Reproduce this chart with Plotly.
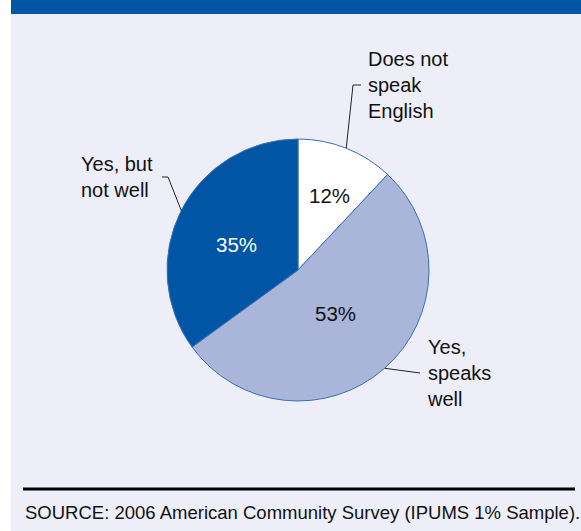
import math
import plotly.graph_objects as go

# Data
categories = ["Does not speak English", "Yes, speaks well", "Yes, but not well"]
shares = [12, 53, 35]
label_lines = [["Does not", "speak", "English"], ["Yes,", "speaks", "well"], ["Yes, but", "not well"]]
source_text = "SOURCE: 2006 American Community Survey (IPUMS 1% Sample)."

# Styling
W, H = 581, 531
slice_colors = ["#FFFFFF", "#AAB5DA", "#0055A5"]
pct_colors = ["#111111", "#111111", "#FFFFFF"]
bg_color = "#EEEEF8"
bar_color = "#0055A5"
edge_color = "#3A6FB5"
FONT = "Liberation Sans, Arial, sans-serif"

# Pie geometry in pixels
cx, cy, r = 298, 270, 131


def px(x):
    return x / W


def py(y):
    return 1 - y / H


def on_circle(angle_deg, rad):
    a = math.radians(angle_deg)
    return cx + rad * math.sin(a), cy - rad * math.cos(a)


# mid-angle of each slice (clockwise from 12 o'clock)
total = sum(shares)
mids = []
acc = 0
for v in shares:
    mids.append((acc + v / 2) / total * 360)
    acc += v

fig = go.Figure(go.Pie(
    labels=categories,
    values=shares,
    sort=False,
    direction="clockwise",
    rotation=0,
    marker=dict(colors=slice_colors, line=dict(color=edge_color, width=1)),
    textinfo="none",
    hoverinfo="label+percent",
    showlegend=False,
    domain=dict(x=[px(cx - r), px(cx + r)], y=[py(cy + r), py(cy - r)]),
))

shapes = [
    # panel background and top band
    dict(type="rect", xref="paper", yref="paper", x0=px(11), x1=1, y0=0, y1=1,
         fillcolor=bg_color, line=dict(width=0), layer="below"),
    dict(type="rect", xref="paper", yref="paper", x0=px(11), x1=1, y0=py(14), y1=1,
         fillcolor=bar_color, line=dict(width=0), layer="below"),
    # rule above the source note
    dict(type="line", xref="paper", yref="paper", x0=px(23), x1=px(575), y0=py(489), y1=py(489),
         line=dict(color="#000000", width=3)),
]

# percentage labels inside the slices (radius fraction, angular nudge)
pct_radius = [0.62, 0.44, 0.51]
pct_shift = [1, 1, -5]
annotations = []
for v, m, f, d, c in zip(shares, mids, pct_radius, pct_shift, pct_colors):
    x, y = on_circle(m + d, r * f)
    annotations.append(dict(x=px(x), y=py(y), xref="paper", yref="paper", text=f"{v}%",
                            showarrow=False, font=dict(family=FONT, size=20.5, color=c),
                            xanchor="center", yanchor="middle"))

# outside category labels with leader lines
label_anchor = [(366, 85), (425, 373), (79, 177)]
leader_paths = [
    [(353, 85), (361, 85)],
    [(420, 373)],
    [(168, 177), (162, 177)],
]
for lines, m, (lx, ly), path in zip(label_lines, mids, label_anchor, leader_paths):
    sx, sy = on_circle(m, r)
    pts = [(sx, sy)] + path
    for (x0, y0), (x1, y1) in zip(pts[:-1], pts[1:]):
        shapes.append(dict(type="line", xref="paper", yref="paper",
                           x0=px(x0), y0=py(y0), x1=px(x1), y1=py(y1),
                           line=dict(color="#222222", width=1)))
    annotations.append(dict(x=px(lx), y=py(ly), xref="paper", yref="paper",
                            text="<br>".join(lines), showarrow=False, align="left",
                            xanchor="left", yanchor="middle",
                            font=dict(family=FONT, size=20, color="#111111")))

annotations.append(dict(x=px(23), y=py(512), xref="paper", yref="paper", text=source_text,
                        showarrow=False, xanchor="left", yanchor="middle",
                        font=dict(family=FONT, size=18.5, color="#111111")))

fig.update_layout(
    width=W, height=H,
    margin=dict(l=0, r=0, t=0, b=0),
    paper_bgcolor="#FFFFFF",
    plot_bgcolor="rgba(0,0,0,0)",
    shapes=shapes,
    annotations=annotations,
)

fig.write_html("out.html", config={"displayModeBar": False})
